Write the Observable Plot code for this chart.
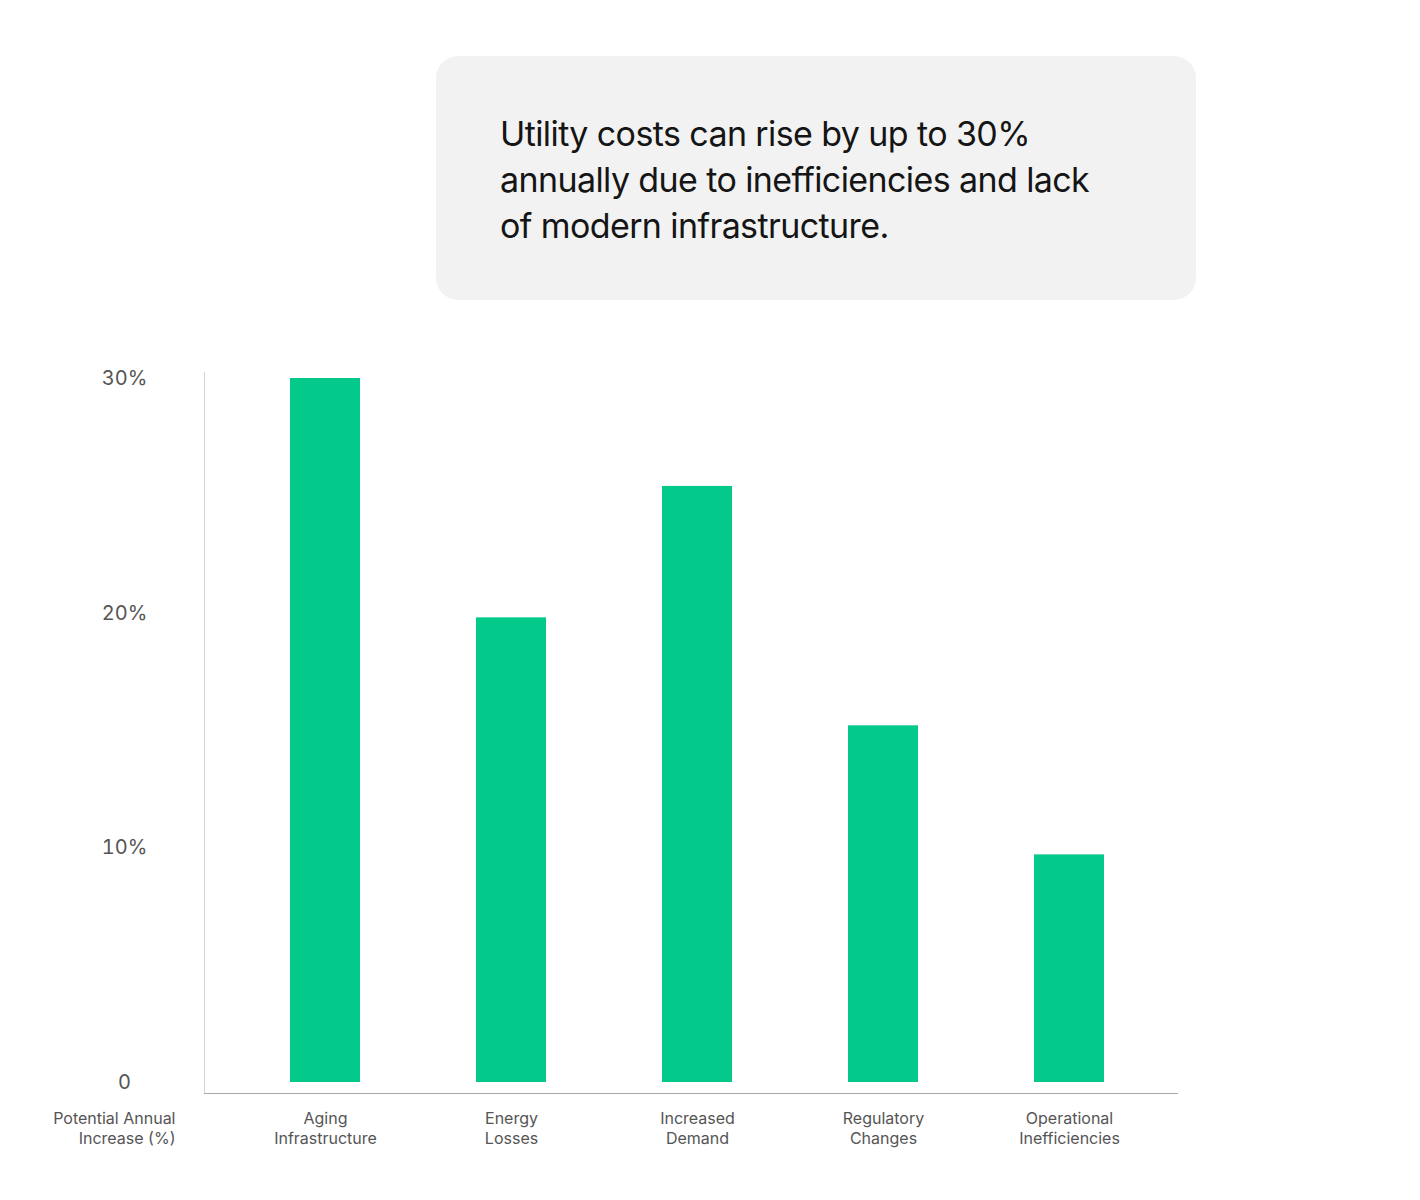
<!DOCTYPE html>
<html>
<head>
<meta charset="utf-8">
<script src="https://cdn.jsdelivr.net/npm/d3@7"></script>
<script src="https://cdn.jsdelivr.net/npm/@observablehq/plot@0.6"></script>
<style>
  html, body { margin: 0; padding: 0; background: #fff; }
  body { width: 1420px; height: 1200px; overflow: hidden; font-family: Inter, "Noto Sans", sans-serif; }
  #title {
    margin: 56px 0 0 436px;
    width: 760px; height: 244px;
    box-sizing: border-box;
    background: #f2f2f2;
    border-radius: 22px;
    padding: 55px 0 0 64px;
    font-size: 34px; line-height: 46px;
    color: #151515;
    letter-spacing: -0.6px;
  }
  #chart svg { display: block; }
</style>
</head>
<body>
<div id="title">Utility costs can rise by up to 30%<br>annually due to inefficiencies and lack<br>of modern infrastructure.</div>
<div id="chart"></div>
<script>
const categories = ["Aging Infrastructure", "Energy Losses", "Increased Demand", "Regulatory Changes", "Operational Inefficiencies"];
const tickLabels = ["Aging\nInfrastructure", "Energy\nLosses", "Increased\nDemand", "Regulatory\nChanges", "Operational\nInefficiencies"];
const values = [30, 19.8, 25.4, 15.2, 9.7];
const yTicks = [0, 10, 20, 30];
const yTickLabels = ["0", "10%", "20%", "30%"];
const yLabel = "Potential Annual\nIncrease (%)";

const data = categories.map((c, i) => ({category: c, value: values[i]}));

const chart = Plot.plot({
  width: 1420,
  height: 900,
  marginTop: 72,
  marginBottom: 107,
  marginLeft: 204,
  marginRight: 243,
  style: {fontFamily: "Inter, 'Noto Sans', sans-serif", background: "#fff"},
  x: {domain: categories, paddingInner: 0.6247, paddingOuter: 0.42, align: 0.54},
  y: {domain: [0, 30], insetTop: 6, insetBottom: 11},
  marks: [
    Plot.barY(data, {x: "category", y: "value", fill: "#03c98b"}),
    Plot.frame({anchor: "left", stroke: "#d2d2d2"}),
    Plot.frame({anchor: "bottom", stroke: "#aaaaaa"}),
    Plot.axisY({
      ticks: yTicks,
      tickFormat: d => yTickLabels[yTicks.indexOf(d)],
      tickSize: 0, tickPadding: 80, textAnchor: "middle",
      fontSize: 20, fill: "#555", label: null
    }),
    Plot.axisX({
      tickSize: 0, tickPadding: 16,
      tickFormat: d => tickLabels[categories.indexOf(d)],
      fontSize: 16, lineHeight: 1.25, fill: "#555", label: null
    }),
    Plot.text([yLabel], {
      text: d => d, frameAnchor: "bottom-left", textAnchor: "end", lineAnchor: "top",
      dx: -29, dy: 16, fontSize: 16, lineHeight: 1.25, fill: "#555"
    })
  ]
});
document.getElementById("chart").appendChild(chart);
</script>
</body>
</html>
